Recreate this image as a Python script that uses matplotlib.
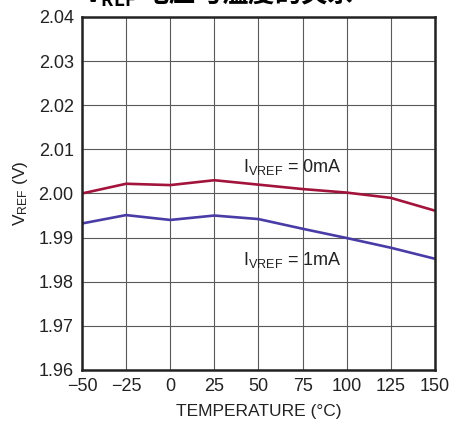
import matplotlib
matplotlib.use("Agg")
import matplotlib.pyplot as plt
from matplotlib import font_manager

names = {f.name for f in font_manager.fontManager.ttflist}
narrow = "Liberation Sans Narrow" if "Liberation Sans Narrow" in names else "Liberation Sans"
plt.rcParams['font.family'] = [narrow, 'DejaVu Sans']
plt.rcParams['mathtext.fontset'] = 'custom'
plt.rcParams['mathtext.rm'] = narrow

temps = [-50, -25, 0, 25, 50, 75, 100, 125, 150]
v_0ma = [2.0000, 2.0022, 2.0019, 2.0030, 2.0020, 2.0010, 2.0002, 1.9990, 1.9961]
v_1ma = [1.9932, 1.9951, 1.9940, 1.9950, 1.9942, 1.9920, 1.9899, 1.9877, 1.9852]
xticks = [-50, -25, 0, 25, 50, 75, 100, 125, 150]
yticks = [1.96, 1.97, 1.98, 1.99, 2.00, 2.01, 2.02, 2.03, 2.04]

fig = plt.figure(figsize=(4.49, 4.24), dpi=100)
ax = fig.add_axes([0.1826, 0.1274, 0.7862, 0.8326])

ax.plot(temps, v_0ma, color='#a3143c', lw=1.9, solid_capstyle='butt')
ax.plot(temps, v_1ma, color='#4a3ca6', lw=1.9, solid_capstyle='butt')

ax.set_xlim(-50, 150)
ax.set_ylim(1.96, 2.04)
ax.set_xticks(xticks)
ax.set_xticklabels(['\u221250', '\u221225'] + [str(t) for t in xticks[2:]])
ax.set_yticks(yticks)
ax.set_yticklabels([f'{y:.2f}' for y in yticks])
ax.grid(True, color='#5a5a5a', lw=0.8)
ax.tick_params(length=0, labelsize=13, pad=6, colors='#222222')
for s in ax.spines.values():
    s.set_linewidth(1.8)
    s.set_color('#222222')

ax.set_xlabel('TEMPERATURE (°C)', fontsize=12.5, color='#222222', labelpad=6)
ax.set_ylabel(r'$\mathregular{V_{REF}}$ (V)', fontsize=12.5, color='#222222', labelpad=6)

ax.text(41, 2.0061, r'$\mathregular{I_{VREF}}$ = 0mA', fontsize=13, color='#222222', va='center', ha='left')
ax.text(41, 1.9850, r'$\mathregular{I_{VREF}}$ = 1mA', fontsize=13, color='#222222', va='center', ha='left')

fig.text(0.487, 1 - 9/424, r'$\mathregular{V_{REF}}$ 电压与温度的关系', fontsize=19, fontweight='bold',
         family=['Noto Sans CJK SC', 'DejaVu Sans'], ha='center', va='bottom', color='black')

fig.savefig('out.png', dpi=100)
